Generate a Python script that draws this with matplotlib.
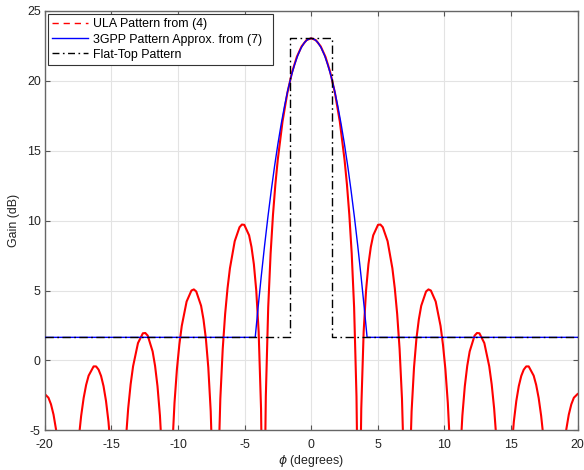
import numpy as np
import matplotlib
matplotlib.use("Agg")
import matplotlib.pyplot as plt
from matplotlib.lines import Line2D

plt.rcParams['font.family'] = ['Liberation Sans', 'DejaVu Sans']
plt.rcParams['axes.unicode_minus'] = False
plt.rcParams['mathtext.fontset'] = 'dejavusans'

# ULA pattern from (4) (values below -5 are off-axis)
phi_ula = [-20.000, -19.725, -19.535, -19.344, -19.155, -18.966, -18.210,
           -17.458, -17.270, -17.083, -16.895, -16.708, -16.335, -16.148, -15.962,
           -15.776, -15.590, -15.404, -15.219, -15.033, -14.478,
           -13.923, -13.739, -13.555, -13.371, -13.003, -12.636, -12.452, -12.269,
           -11.903, -11.720, -11.537, -11.354, -11.172, -10.807,
           -10.443, -10.261, -10.079, -9.897, -9.715, -9.352, -8.989, -8.808, -8.627,
           -8.265, -8.084, -7.903, -7.723, -7.542, -7.361, -7.181,
           -7.000, -6.820, -6.640, -6.459, -6.279, -6.099, -5.739, -5.379, -5.200,
           -5.020, -4.660, -4.481, -4.301, -4.122, -3.942, -3.763, -3.655, -3.583,
           -3.512, -3.404, -3.225, -3.045, -2.866, -2.687, -2.508, -2.149, -1.791,
           -1.433, -1.074, -0.716, -0.358,
           0.000,
           0.358, 0.716, 1.074, 1.433, 1.791, 2.149, 2.508, 2.687, 2.866, 3.045,
           3.225, 3.404, 3.512,
           3.583, 3.655, 3.763, 3.942, 4.122, 4.301, 4.481, 4.660, 5.020, 5.200,
           5.379, 5.739, 6.099, 6.279, 6.459, 6.640, 6.820, 7.000,
           7.181, 7.361, 7.542, 7.723, 7.903, 8.084, 8.265, 8.627, 8.808, 8.989,
           9.352, 9.715, 9.897, 10.079, 10.261, 10.443,
           10.807, 11.172, 11.354, 11.537, 11.720, 11.903, 12.269, 12.452, 12.636,
           13.003, 13.371, 13.555, 13.739, 13.923,
           14.478, 15.033, 15.219, 15.404, 15.590, 15.776, 15.962, 16.148, 16.335,
           16.708, 16.895, 17.083, 17.270, 17.458,
           18.210, 18.966, 19.155, 19.344, 19.535, 19.725, 20.000]
gain_ula = [-2.41, -2.67, -3.14, -3.88, -4.95, -6.46, -40,
            -5.67, -3.97, -2.69, -1.75, -1.09, -0.43, -0.43, -0.66,
            -1.11, -1.84, -2.90, -4.38, -6.52, -40,
            -5.81, -3.44, -1.71, -0.42, 1.24, 1.94, 1.96, 1.77,
            0.64, -0.39, -1.85, -3.95, -7.15, -40,
            -6.54, -3.04, -0.63, 1.13, 2.47, 4.21, 5.00, 5.08, 4.93,
            3.91, 2.93, 1.54, -0.51, -3.64, -9.34, -40,
            -8.89, -2.75, 0.82, 3.32, 5.16, 6.59, 8.53, 9.53, 9.72,
            9.70, 8.95, 8.12, 6.88, 5.00, 2.05, -3.45, -11.1, -40,
            -10.8, -2.58, 3.80, 7.64, 10.42, 12.59, 14.35, 17.10, 19.12,
            20.62, 21.72, 22.47, 22.91,
            23.05,
            22.91, 22.47, 21.72, 20.62, 19.12, 17.10, 14.35, 12.59, 10.42, 7.64,
            3.80, -2.58, -10.8,
            -40, -11.1, -3.45, 2.05, 5.00, 6.88, 8.12, 8.95, 9.70, 9.72,
            9.53, 8.53, 6.59, 5.16, 3.32, 0.82, -2.75, -8.89,
            -40, -9.34, -3.64, -0.51, 1.54, 2.93, 3.91, 4.93, 5.08, 5.00,
            4.21, 2.47, 1.13, -0.63, -3.04, -6.54,
            -40, -7.15, -3.95, -1.85, -0.39, 0.64, 1.77, 1.96, 1.94,
            1.24, -0.42, -1.71, -3.44, -5.81,
            -40, -6.52, -4.38, -2.90, -1.84, -1.11, -0.66, -0.43, -0.43,
            -1.09, -1.75, -2.69, -3.97, -5.67,
            -40, -6.46, -4.95, -3.88, -3.14, -2.67, -2.41]

# 3GPP pattern approximation from (7)
phi_3gpp = [-20, -4.2, -4.0, -3.75, -3.5, -3.25, -3.0, -2.75, -2.5, -2.25, -2.0,
            -1.75, -1.5, -1.25, -1.0, -0.75, -0.5, -0.25, 0, 0.25, 0.5, 0.75,
            1.0, 1.25, 1.5, 1.75, 2.0, 2.25, 2.5, 2.75, 3.0, 3.25, 3.5, 3.75,
            4.0, 4.2, 20]
gain_3gpp = [1.65, 1.65, 3.64, 5.99, 8.19, 10.24, 12.13, 13.88, 15.47, 16.91, 18.20,
             19.34, 20.32, 21.15, 21.84, 22.37, 22.75, 22.97, 23.05, 22.97, 22.75, 22.37,
             21.84, 21.15, 20.32, 19.34, 18.20, 16.91, 15.47, 13.88, 12.13, 10.24, 8.19, 5.99,
             3.64, 1.65, 1.65]

# flat-top pattern
phi_flat = [-20, -1.59, -1.59, 1.59, 1.59, 20]
gain_flat = [1.65, 1.65, 23.05, 23.05, 1.65, 1.65]

fig = plt.figure(figsize=(5.84, 4.70), dpi=100)
ax = fig.add_axes([0.0767, 0.0845, 0.9122, 0.8921])

ax.plot(phi_ula, gain_ula, color='red', lw=1.5, zorder=2)
ax.plot(phi_3gpp, gain_3gpp, color='blue', lw=1.0, zorder=3)
ax.plot(phi_flat, gain_flat, color='black', lw=1.0, dashes=(6, 2.5, 1.2, 2.5), zorder=4)

ax.set_xlim(-20, 20)
ax.set_ylim(-5, 25)
ax.set_xticks(np.arange(-20, 21, 5))
ax.set_yticks(np.arange(-5, 26, 5))
ax.grid(True, color='#e3e3e3', lw=0.8)
ax.set_axisbelow(True)
ax.tick_params(direction='in', length=3.5, top=True, right=True, labelsize=8.9,
               color='#555555', labelcolor='#222222')
ax.tick_params(axis='x', pad=6)
ax.tick_params(axis='y', pad=3)
for s in ax.spines.values():
    s.set_color('#666666')
    s.set_linewidth(1.0)

ax.set_xlabel(r'$\phi$ (degrees)', fontsize=8.9, color='#222222', labelpad=2)
ax.set_ylabel('Gain (dB)', fontsize=8.9, color='#222222', labelpad=5)

handles = [Line2D([], [], color='red', lw=1.0, dashes=(4.5, 3.5)),
           Line2D([], [], color='blue', lw=1.0),
           Line2D([], [], color='black', lw=1.0, dashes=(5, 2.5, 1.2, 2.5))]
labels = ['ULA Pattern from (4)', '3GPP Pattern Approx. from (7)  ', 'Flat-Top Pattern']
leg = ax.legend(handles, labels, loc='upper left', fontsize=8.9, fancybox=False,
                framealpha=1, edgecolor='#333333', handlelength=2.9,
                handletextpad=0.4, labelspacing=0.25, borderaxespad=0.25,
                borderpad=0.35)
leg.get_frame().set_linewidth(0.8)

fig.savefig('out.png', dpi=100)
